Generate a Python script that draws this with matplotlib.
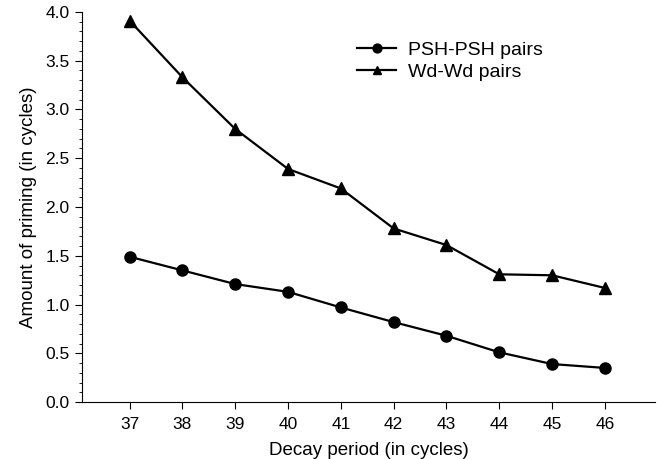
import matplotlib
matplotlib.use("Agg")
import matplotlib.pyplot as plt
from matplotlib.ticker import MultipleLocator

plt.rcParams['font.family'] = ['Liberation Sans', 'DejaVu Sans']

decay = [37, 38, 39, 40, 41, 42, 43, 44, 45, 46]
psh = [1.49, 1.35, 1.21, 1.13, 0.97, 0.82, 0.68, 0.51, 0.39, 0.35]
wd = [3.91, 3.33, 2.80, 2.39, 2.19, 1.78, 1.61, 1.31, 1.30, 1.17]
yticks = [0.0, 0.5, 1.0, 1.5, 2.0, 2.5, 3.0, 3.5, 4.0]

fig = plt.figure(figsize=(6.57, 4.59), dpi=100)
ax = fig.add_axes([0.125, 0.124, 0.872, 0.850])

ax.plot(decay, psh, '-o', color='black', lw=1.6, ms=8, label='PSH-PSH pairs')
ax.plot(decay, wd, '-^', color='black', lw=1.6, ms=8, label='Wd-Wd pairs')

ax.set_xlim(36.1, 46.95)
ax.set_ylim(0, 4.0)
ax.set_xticks(decay)
ax.set_yticks(yticks)
ax.set_yticklabels([f"{v:.1f}" for v in yticks])
ax.yaxis.set_minor_locator(MultipleLocator(0.1))
ax.tick_params(axis='both', labelsize=12.5, direction='out', colors='black')
ax.tick_params(axis='y', which='major', length=5, pad=4)
ax.tick_params(axis='y', which='minor', length=2.5)
ax.tick_params(axis='x', length=5, pad=6)
for s in ['top', 'right']:
    ax.spines[s].set_visible(False)
ax.set_xlabel('Decay period (in cycles)', fontsize=13.5, labelpad=7)
ax.set_ylabel('Amount of priming (in cycles)', fontsize=13.5, labelpad=6)

ax.legend(loc='upper left', bbox_to_anchor=(0.45, 0.97), frameon=False,
          fontsize=14, handlelength=2.0, labelspacing=0.25, handletextpad=0.6,
          markerscale=0.8)

fig.savefig('out.png', dpi=100)
